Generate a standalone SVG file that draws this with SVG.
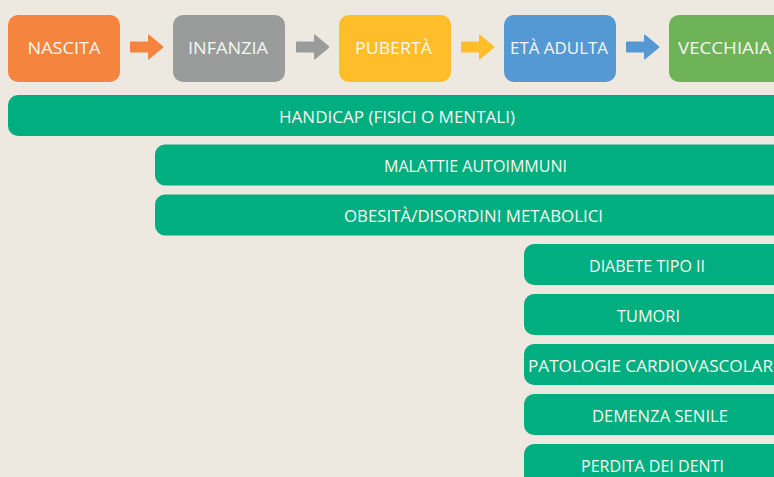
<svg xmlns="http://www.w3.org/2000/svg" width="774" height="477" viewBox="0 0 774 477">
<style>
text{font-family:"Open Sans","Noto Sans","Liberation Sans",sans-serif;font-size:16.5px;fill:#F7F7F2;}
.stage{rx:10;ry:10;}
.bar{fill:#00AE80;}
</style>
<defs>
<path id="arr" d="M0,-4.5 Q0,-5.5 1,-5.5 L18,-5.5 L18,-11.5 Q18,-13 19.5,-12 L33,-0.8 Q34,0 33,0.8 L19.5,12 Q18,13 18,11.5 L18,5.5 L1,5.5 Q0,5.5 0,4.5 Z" stroke-linejoin="round"/>
</defs>
<rect width="774" height="477" fill="#EEE9E0"/>
<g id="nascita"><rect class="stage" x="8" y="15" width="112" height="67" rx="10" fill="#F4843E"/><text x="64" y="53.5" text-anchor="middle" textLength="73" lengthAdjust="spacingAndGlyphs">NASCITA</text></g>
<g id="infanzia"><rect x="173" y="15" width="112" height="67" rx="10" fill="#9A9C9C"/><text x="228" y="53.5" text-anchor="middle" textLength="80" lengthAdjust="spacingAndGlyphs">INFANZIA</text></g>
<g id="pubertà"><rect x="339" y="15" width="112" height="67" rx="10" fill="#FDBE2A"/><text x="393.5" y="53.5" text-anchor="middle" textLength="77" lengthAdjust="spacingAndGlyphs">PUBERTÀ</text></g>
<g id="eta-adulta"><rect x="504" y="15" width="112" height="67" rx="10" fill="#5499D3"/><text x="559" y="53.5" text-anchor="middle" textLength="98" lengthAdjust="spacingAndGlyphs">ETÀ ADULTA</text></g>
<g id="vecchiaia"><rect x="669" y="15" width="130" height="67" rx="10" fill="#6FB358"/><text x="724.5" y="53.5" text-anchor="middle" textLength="93" lengthAdjust="spacingAndGlyphs">VECCHIAIA</text></g>
<g id="connectors">
<use href="#arr" transform="translate(130,47)" fill="#F4843E"/>
<use href="#arr" transform="translate(296,47)" fill="#9A9C9C"/>
<use href="#arr" transform="translate(461,47)" fill="#FDBE2A"/>
<use href="#arr" transform="translate(626,47)" fill="#5499D3"/>
</g>
<g id="handicap"><rect class="bar" x="8" y="95" width="800" height="41" rx="10"/><text x="397" y="123" text-anchor="middle" textLength="236" lengthAdjust="spacingAndGlyphs">HANDICAP (FISICI O MENTALI)</text></g>
<g id="malattie-autoimmuni"><rect class="bar" x="155" y="144.5" width="660" height="41" rx="10"/><text x="475.5" y="172.3" text-anchor="middle" textLength="183" lengthAdjust="spacingAndGlyphs">MALATTIE AUTOIMMUNI</text></g>
<g id="obesita"><rect class="bar" x="155" y="194.5" width="660" height="41" rx="10"/><text x="473.5" y="221.8" text-anchor="middle" textLength="259" lengthAdjust="spacingAndGlyphs">OBESITÀ/DISORDINI METABOLICI</text></g>
<g id="diabete"><rect class="bar" x="524" y="244" width="290" height="41" rx="10"/><text x="647" y="271.7" text-anchor="middle" textLength="116" lengthAdjust="spacingAndGlyphs">DIABETE TIPO II</text></g>
<g id="tumori"><rect class="bar" x="524" y="294" width="290" height="41" rx="10"/><text x="648.5" y="321.7" text-anchor="middle" textLength="63" lengthAdjust="spacingAndGlyphs">TUMORI</text></g>
<g id="patologie"><rect class="bar" x="524" y="344" width="290" height="41" rx="10"/><text x="528" y="371.7" textLength="245" lengthAdjust="spacingAndGlyphs">PATOLOGIE CARDIOVASCOLAR</text></g>
<g id="demenza"><rect class="bar" x="524" y="394" width="290" height="41" rx="10"/><text x="660" y="421.7" text-anchor="middle" textLength="136" lengthAdjust="spacingAndGlyphs">DEMENZA SENILE</text></g>
<g id="perdita"><rect class="bar" x="524" y="444" width="290" height="41" rx="10"/><text x="652.5" y="471.7" text-anchor="middle" textLength="143" lengthAdjust="spacingAndGlyphs">PERDITA DEI DENTI</text></g>
</svg>
